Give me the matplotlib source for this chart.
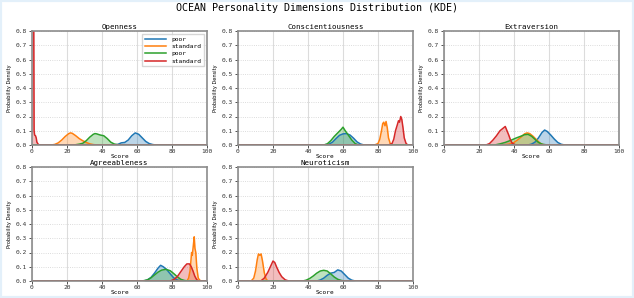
import matplotlib
matplotlib.use("Agg")
import matplotlib.pyplot as plt
from matplotlib.patches import Rectangle

dimensions = ["Openness", "Conscientiousness", "Extraversion", "Agreeableness", "Neuroticism"]
series_labels = ["poor", "standard", "poor", "standard"]
series_colors = ["#1f77b4", "#ff7f0e", "#2ca02c", "#d62728"]

# KDE curves: (x knots, density knots) per series
openness_x = [
    [0, 47, 49, 51, 53, 55, 57, 59, 61, 63, 65, 67, 69, 71, 100],
    [0, 11, 13, 15, 17, 19, 21, 22, 23, 25, 27, 29, 31, 33, 35, 37, 100],
    [0, 24, 27, 29, 31, 33, 35, 36, 37, 39, 41, 43, 45, 47, 49, 100],
    [0, 0.6, 1.0, 1.2, 1.5, 2.0, 2.4, 2.8, 3.3, 3.9, 100],
]
openness_y = [
    [0, 0, 0.004, 0.015, 0.018, 0.035, 0.065, 0.085, 0.075, 0.05, 0.025, 0.01, 0.003, 0, 0],
    [0, 0, 0.004, 0.015, 0.035, 0.06, 0.08, 0.085, 0.082, 0.065, 0.045, 0.03, 0.018, 0.008, 0.003, 0, 0],
    [0, 0, 0.006, 0.012, 0.03, 0.055, 0.075, 0.08, 0.078, 0.07, 0.065, 0.045, 0.02, 0.007, 0.002, 0],
    [0.95, 0.95, 0.9, 0.1, 0.07, 0.065, 0.05, 0.02, 0.01, 0.0, 0],
]

consc_x = [
    [0, 49, 52, 54, 56, 58, 60, 62, 64, 66, 68, 70, 72, 100],
    [0, 78, 80, 81, 82, 82.7, 83.3, 84, 84.6, 85.3, 86, 87, 88, 100],
    [0, 49, 51, 53, 55, 57, 59, 60, 61, 63, 65, 67, 69, 100],
    [0, 86, 88, 89, 90, 91, 91.7, 92.3, 93, 93.6, 94.3, 95, 96, 97, 100],
]
consc_y = [
    [0, 0, 0.006, 0.02, 0.045, 0.068, 0.078, 0.08, 0.07, 0.048, 0.022, 0.007, 0, 0],
    [0, 0, 0.01, 0.04, 0.1, 0.15, 0.16, 0.135, 0.165, 0.12, 0.05, 0.01, 0, 0],
    [0, 0, 0.008, 0.03, 0.06, 0.085, 0.11, 0.125, 0.105, 0.07, 0.035, 0.01, 0, 0],
    [0, 0, 0.01, 0.04, 0.1, 0.14, 0.17, 0.16, 0.2, 0.18, 0.12, 0.05, 0.012, 0, 0],
]

extra_x = [
    [0, 48, 50, 52, 54, 56, 57.5, 59, 61, 63, 65, 67, 69, 100],
    [0, 34, 37, 40, 42, 44, 46, 47.5, 49, 51, 53, 55, 57, 100],
    [0, 29, 32, 35, 38, 41, 44, 46, 48, 50, 52, 54, 56, 59, 100],
    [0, 24, 26, 28, 30, 32, 33, 34, 35, 36, 37, 38, 39, 41, 100],
]
extra_y = [
    [0, 0, 0.006, 0.02, 0.05, 0.088, 0.105, 0.095, 0.07, 0.042, 0.018, 0.005, 0, 0],
    [0, 0, 0.006, 0.018, 0.035, 0.055, 0.078, 0.085, 0.08, 0.06, 0.035, 0.012, 0, 0],
    [0, 0, 0.008, 0.018, 0.032, 0.048, 0.062, 0.072, 0.075, 0.062, 0.04, 0.018, 0.006, 0, 0],
    [0, 0, 0.01, 0.035, 0.065, 0.1, 0.11, 0.12, 0.13, 0.1, 0.07, 0.035, 0.012, 0, 0],
]

agree_x = [
    [0, 64, 66, 68, 70, 72, 73.5, 75, 77, 79, 81, 83, 85, 100],
    [0, 88.5, 89.5, 90.3, 90.8, 91.2, 91.6, 92.2, 92.7, 93.1, 93.6, 94.2, 95, 96, 97, 100],
    [0, 63, 66, 68, 70, 72, 74, 76.5, 79, 81, 83, 85, 87, 89, 100],
    [0, 79, 81, 83, 85, 87, 88.5, 90, 91, 92, 93, 94, 95, 100],
]
agree_y = [
    [0, 0, 0.008, 0.025, 0.055, 0.09, 0.11, 0.1, 0.08, 0.05, 0.022, 0.007, 0, 0],
    [0, 0, 0.02, 0.07, 0.14, 0.2, 0.18, 0.25, 0.31, 0.23, 0.2, 0.09, 0.02, 0.004, 0, 0],
    [0, 0, 0.008, 0.022, 0.042, 0.062, 0.076, 0.082, 0.072, 0.052, 0.03, 0.012, 0.004, 0, 0],
    [0, 0, 0.01, 0.03, 0.065, 0.1, 0.12, 0.12, 0.1, 0.07, 0.035, 0.012, 0, 0],
]

neuro_x = [
    [0, 45, 47, 49, 51, 53, 55, 57, 59, 61, 63, 65, 67, 100],
    [0, 7.5, 9, 10, 11, 11.7, 12.5, 13.2, 14, 15, 16, 17, 100],
    [0, 37, 39, 41, 43, 45, 47, 49, 51, 53, 55, 57, 59, 61, 100],
    [0, 13, 15, 17, 18.5, 20, 21, 22, 23.5, 25, 27, 29, 100],
]
neuro_y = [
    [0, 0, 0.007, 0.02, 0.04, 0.055, 0.06, 0.078, 0.07, 0.045, 0.02, 0.006, 0, 0],
    [0, 0, 0.02, 0.07, 0.15, 0.19, 0.18, 0.19, 0.14, 0.06, 0.015, 0, 0],
    [0, 0, 0.006, 0.018, 0.035, 0.055, 0.07, 0.075, 0.07, 0.05, 0.028, 0.012, 0.004, 0, 0],
    [0, 0, 0.02, 0.06, 0.1, 0.14, 0.13, 0.1, 0.06, 0.03, 0.008, 0, 0],
]

all_x = [openness_x, consc_x, extra_x, agree_x, neuro_x]
all_y = [openness_y, consc_y, extra_y, agree_y, neuro_y]

x_ticks = [0, 20, 40, 60, 80, 100]
y_ticks = [0.0, 0.1, 0.2, 0.3, 0.4, 0.5, 0.6, 0.7, 0.8]

W, H = 634, 298
fig = plt.figure(figsize=(W / 100, H / 100), dpi=100, facecolor="white")
fig.patches.append(Rectangle((0, 0), 1, 1, transform=fig.transFigure, fill=False,
                             edgecolor="#e3f0fa", linewidth=3))

mono = "DejaVu Sans Mono"
fig.text(0.5, 0.972, "OCEAN Personality Dimensions Distribution (KDE)", ha="center", va="center",
         fontsize=7.2, family=mono)

cols_left = [32, 238, 444]
row_top = [31, 167]
aw, ah = 175, 114

for i, name in enumerate(dimensions):
    r, c = divmod(i, 3)
    left = cols_left[c] / W
    bottom = 1 - (row_top[r] + ah) / H
    ax = fig.add_axes([left, bottom, aw / W, ah / H])
    ax.set_facecolor("white")
    ax.grid(axis="x", color="#dcdcdc", linewidth=0.8)
    ax.grid(axis="y", color="#d0d0d0", linewidth=0.6, linestyle=":")
    ax.set_axisbelow(True)
    for xs, ys, lab, col in zip(all_x[i], all_y[i], series_labels, series_colors):
        ax.fill_between(xs, ys, color=col, alpha=0.3, linewidth=0)
        ax.plot(xs, ys, color=col, linewidth=1.1, label=lab)
    ax.set_xlim(0, 100)
    ax.set_ylim(0, 0.8)
    ax.set_xticks(x_ticks)
    ax.set_yticks(y_ticks)
    ax.set_xticklabels([str(t) for t in x_ticks], family=mono, fontsize=4.5)
    ax.set_yticklabels([f"{t:.1f}" for t in y_ticks], family=mono, fontsize=4.5)
    ax.tick_params(axis="y", length=2.5, width=0.6, colors="#333333", pad=1.5)
    ax.tick_params(axis="x", length=2, width=0.6, colors="#333333", pad=0.8)
    for sp in ax.spines.values():
        sp.set_color("#8c8c8c")
        sp.set_linewidth(1.2)
    ax.set_title(name, family=mono, fontsize=5.3, pad=1.5)
    ax.set_ylabel("Probability Density", family="DejaVu Sans", fontsize=3.6, labelpad=2)
    ax.set_xlabel("Score", family=mono, fontsize=4.4, labelpad=0)
    if i == 0:
        ax.legend(loc="upper right", prop={"family": mono, "size": 4.5}, frameon=True,
                  fancybox=False, edgecolor="#cccccc", handlelength=3.5, borderpad=0.4,
                  labelspacing=0.3)

fig.savefig("out.png", dpi=100, facecolor="white")
